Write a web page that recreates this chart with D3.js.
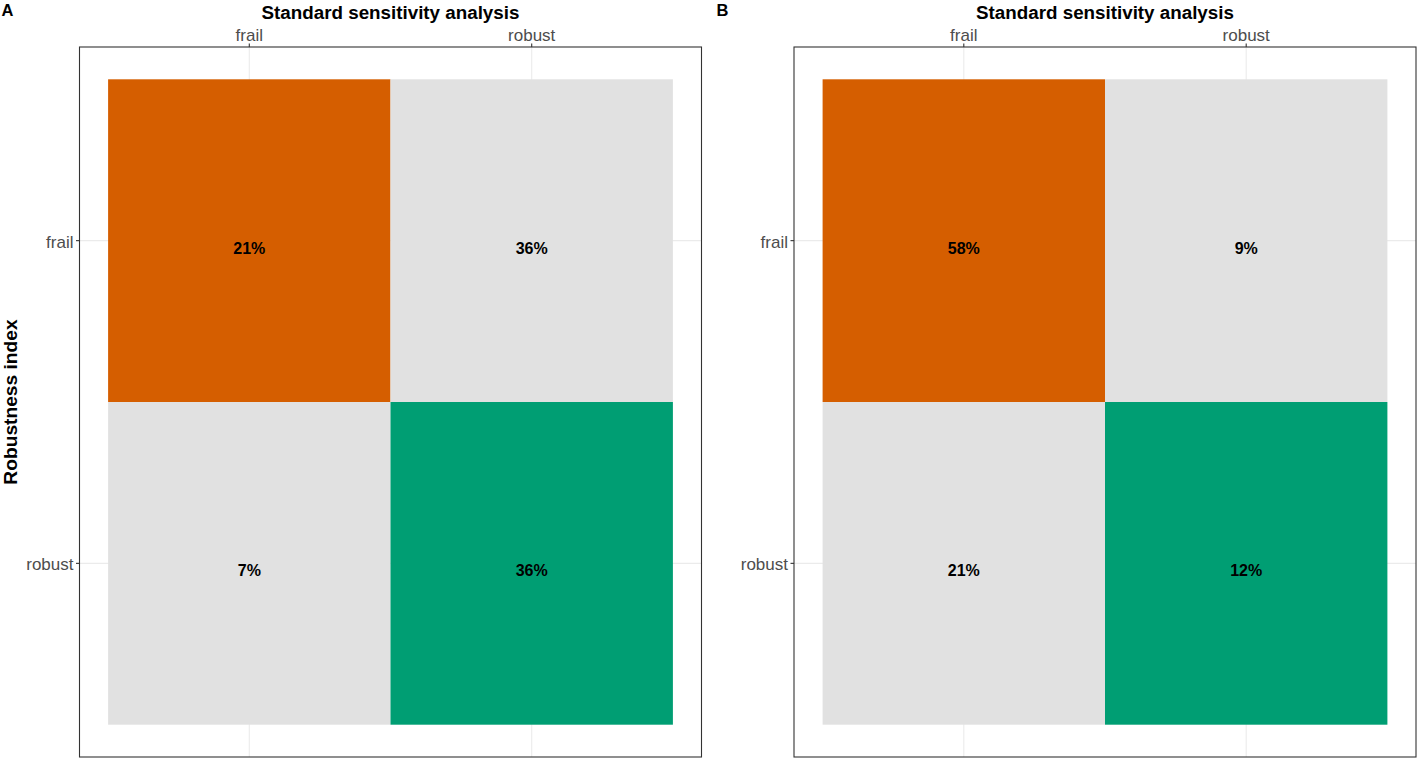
<!DOCTYPE html>
<html><head><meta charset="utf-8">
<script src="https://cdn.jsdelivr.net/npm/d3@7"></script>
<style>body{margin:0;background:#fff;} svg{display:block;font-family:Arial,"Liberation Sans",sans-serif;}</style>
</head><body>
<svg id="c" width="1418" height="760"></svg>
<script>
const categories = ["frail", "robust"];
const panelLetters = ["A", "B"];
const xTitle = "Standard sensitivity analysis";
const yTitle = "Robustness index";
// values[row = robustness index][col = standard sensitivity analysis]
const valuesA = [[21, 36], [7, 36]];
const valuesB = [[58, 9], [21, 12]];
const panelValues = [valuesA, valuesB];

const svg = d3.select("#c");
const colorDiag = ["#D55E00", "#009E73"];
const offColor = "#E1E1E1";

const panels = [{left: 79.5, top: 47, width: 622, height: 710}, {left: 794, top: 47, width: 622, height: 710}];

panels.forEach((p, pi) => {
  const g = svg.append("g");
  const padX = 28.6, padY = 32.3;
  const x = d3.scaleBand().domain(categories).range([p.left + padX, p.left + p.width - padX]).padding(0);
  const y = d3.scaleBand().domain(categories).range([p.top + padY, p.top + p.height - padY]).padding(0);

  // grid lines
  categories.forEach(c => {
    g.append("line").attr("x1", x(c) + x.bandwidth()/2).attr("x2", x(c) + x.bandwidth()/2)
      .attr("y1", p.top).attr("y2", p.top + p.height).attr("stroke", "#ebebeb").attr("stroke-width", 1.1);
    g.append("line").attr("y1", y(c) + y.bandwidth()/2).attr("y2", y(c) + y.bandwidth()/2)
      .attr("x1", p.left).attr("x2", p.left + p.width).attr("stroke", "#ebebeb").attr("stroke-width", 1.1);
  });

  const cells = [];
  categories.forEach((r, ri) => categories.forEach((c, ci) => cells.push({r, c, ri, ci, v: panelValues[pi][ri][ci]})));

  g.selectAll("rect.tile").data(cells).enter().append("rect")
    .attr("x", d => x(d.c)).attr("y", d => y(d.r))
    .attr("width", x.bandwidth()).attr("height", y.bandwidth())
    .attr("fill", d => d.ri === d.ci ? colorDiag[d.ri] : offColor);

  g.selectAll("text.lab").data(cells).enter().append("text")
    .attr("x", d => x(d.c) + x.bandwidth()/2).attr("y", d => y(d.r) + y.bandwidth()/2 + 13)
    .attr("text-anchor", "middle").attr("font-weight", "bold").attr("font-size", 16).attr("fill", "#000")
    .text(d => d.v + "%");

  // border
  g.append("rect").attr("x", p.left).attr("y", p.top).attr("width", p.width).attr("height", p.height)
    .attr("fill", "none").attr("stroke", "#333").attr("stroke-width", 1.1);

  // top axis
  const xa = d3.axisTop(x).tickSize(3.5).tickPadding(2.5);
  const gx = g.append("g").attr("transform", `translate(0,${p.top})`).call(xa);
  gx.select(".domain").remove();
  gx.selectAll("line").attr("stroke", "#333").attr("stroke-width", 1.1);
  gx.selectAll("text").attr("font-size", 17).attr("fill", "#4d4d4d").attr("font-family", "Arial,'Liberation Sans',sans-serif");

  const ya = d3.axisLeft(y).tickSize(3.5).tickPadding(2.5);
  const gy = g.append("g").attr("transform", `translate(${p.left},0)`).call(ya);
  gy.select(".domain").remove();
  gy.selectAll("line").attr("stroke", "#333").attr("stroke-width", 1.1);
  gy.selectAll("text").attr("font-size", 17).attr("fill", "#4d4d4d").attr("dy", "0.42em").attr("font-family", "Arial,'Liberation Sans',sans-serif");

  // title
  g.append("text").attr("x", p.left + p.width/2).attr("y", 19).attr("text-anchor", "middle")
    .attr("font-weight", "bold").attr("font-size", 18.8).text(xTitle);

  // panel letter
  g.append("text").attr("x", pi === 0 ? 1.5 : 716.5).attr("y", 15.5).attr("font-weight", "bold").attr("font-size", 16.5).text(panelLetters[pi]);

  if (pi === 0) {
    g.append("text").attr("transform", `translate(17,${p.top + p.height/2}) rotate(-90)`)
      .attr("text-anchor", "middle").attr("font-weight", "bold").attr("font-size", 19.2).text(yTitle);
  }
});
</script>
</body></html>
